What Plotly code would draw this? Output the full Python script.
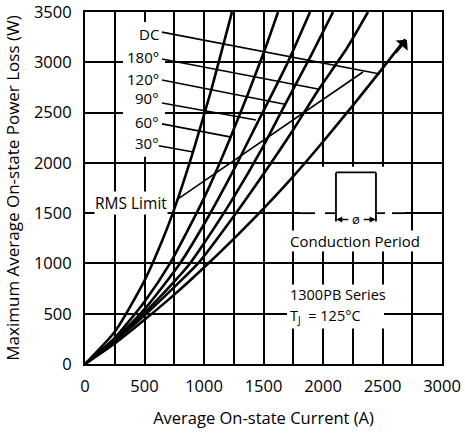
import plotly.graph_objects as go

# ---- data ----
i_30 = [0, 250, 500, 650, 750, 900, 1050, 1235]
p_30 = [0, 320, 830, 1230, 1540, 2080, 2680, 3500]

i_60 = [0, 250, 500, 714, 1000, 1218, 1500, 1622]
p_60 = [0, 260, 620, 1000, 1650, 2240, 3090, 3500]

i_90 = [0, 250, 500, 798, 1000, 1250, 1437, 1700, 1891]
p_90 = [0, 245, 545, 1000, 1390, 1930, 2370, 2990, 3500]

i_120 = [0, 250, 500, 750, 882, 1000, 1250, 1500, 1672, 1900, 2084]
p_120 = [0, 238, 510, 820, 1000, 1200, 1660, 2170, 2560, 3070, 3500]

i_180 = [0, 250, 500, 750, 950, 1250, 1500, 1750, 1958, 2200, 2378]
p_180 = [0, 228, 485, 765, 1000, 1470, 1890, 2330, 2720, 3140, 3500]

i_dc = [0, 250, 500, 750, 1000, 1250, 1500, 1750, 2000, 2250, 2500, 2690]
p_dc = [0, 205, 440, 690, 960, 1245, 1545, 1865, 2210, 2570, 2940, 3230]

curves = [(i_30, p_30), (i_60, p_60), (i_90, p_90),
          (i_120, p_120), (i_180, p_180), (i_dc, p_dc)]

curve_labels = ["DC", "180°", "120°", "90°", "60°", "30°"]
label_y = [3286, 3053, 2839, 2641, 2408, 2194]
leader_start = [(647, 3300), (647, 3033), (647, 2825), (647, 2596), (647, 2388), (620, 2170)]
leader_end = [(2479, 2884), (1958, 2735), (1680, 2584), (1437, 2427), (1218, 2259), (899, 2110)]

x_ticks = [0, 500, 1000, 1500, 2000, 2500, 3000]
y_ticks = [0, 500, 1000, 1500, 2000, 2500, 3000, 3500]

FONT = "Open Sans"

fig = go.Figure()
for xs, ys in curves:
    fig.add_trace(go.Scatter(x=xs, y=ys, mode="lines",
                             line=dict(color="black", width=2.6, shape="spline", smoothing=0.6),
                             showlegend=False, hoverinfo="skip"))

shapes = []
# white patches hiding the grid behind texts / inset
def wrect(x0, x1, y0, y1):
    shapes.append(dict(type="rect", xref="x", yref="y", x0=x0, x1=x1, y0=y0, y1=y1,
                       fillcolor="white", line=dict(width=0), layer="between"))

wrect(319, 672, 2060, 3400)      # label column
wrect(1807, 2689, 1316, 1961)    # inset
wrect(1697, 2513, 354, 791)      # series text

# leaders
for (x0, y0), (x1, y1) in zip(leader_start, leader_end):
    shapes.append(dict(type="line", xref="x", yref="y", x0=x0, y0=y0, x1=x1, y1=y1,
                       line=dict(color="black", width=1.6)))
# RMS limit leader
shapes.append(dict(type="line", xref="x", yref="y", x0=773, y0=1634, x1=2336, y1=2904,
                   line=dict(color="black", width=1.6)))

# inset: pulse and baseline
for a, b in [(1807, 1933), (2017, 2109), (2445, 2521), (2580, 2689)]:
    shapes.append(dict(type="line", xref="x", yref="y", x0=a, x1=b, y0=1500, y1=1500,
                       line=dict(color="black", width=1.8)))
shapes.append(dict(type="line", xref="x", yref="y", x0=2109, x1=2109, y0=1416, y1=1905,
                   line=dict(color="black", width=1.8)))
shapes.append(dict(type="line", xref="x", yref="y", x0=2445, x1=2445, y0=1416, y1=1905,
                   line=dict(color="black", width=1.8)))
shapes.append(dict(type="line", xref="x", yref="y", x0=2109, x1=2445, y0=1905, y1=1905,
                   line=dict(color="black", width=1.8)))

annotations = []
for t, y in zip(curve_labels, label_y):
    annotations.append(dict(x=640, y=y, xref="x", yref="y", text=t, showarrow=False,
                            xanchor="right", yanchor="middle",
                            font=dict(family=FONT, size=15, color="black")))
annotations.append(dict(x=697, y=1604, xref="x", yref="y", text="RMS Limit", showarrow=False,
                        xanchor="right", yanchor="middle",
                        font=dict(family=FONT, size=15.5, color="black"),
                        bgcolor="white", borderpad=0))
annotations.append(dict(x=2269, y=1224, xref="x", yref="y", text="Conduction Period",
                        showarrow=False, xanchor="center", yanchor="middle",
                        font=dict(family=FONT, size=15, color="black"),
                        bgcolor="white", borderpad=0))
annotations.append(dict(x=1706, y=692, xref="x", yref="y", text="1300PB Series",
                        showarrow=False, xanchor="left", yanchor="middle",
                        font=dict(family=FONT, size=14.5, color="black")))
annotations.append(dict(x=1706, y=468, xref="x", yref="y",
                        text="T<sub>J</sub>\u00a0 = 125°C",
                        showarrow=False, xanchor="left", yanchor="middle",
                        font=dict(family=FONT, size=14.5, color="black")))
# theta marker with arrows
annotations.append(dict(x=2277, y=1438, xref="x", yref="y", text="ø", showarrow=False,
                        font=dict(family=FONT, size=13, color="black")))
annotations.append(dict(x=2112, y=1438, ax=2225, ay=1438, xref="x", yref="y",
                        axref="x", ayref="y", text="", showarrow=True,
                        arrowhead=2, arrowsize=0.8, arrowwidth=1.5, arrowcolor="black"))
annotations.append(dict(x=2442, y=1438, ax=2330, ay=1438, xref="x", yref="y",
                        axref="x", ayref="y", text="", showarrow=True,
                        arrowhead=2, arrowsize=0.8, arrowwidth=1.5, arrowcolor="black"))
# arrow at end of DC curve
annotations.append(dict(x=2705, y=3225, ax=2600, ay=3080, xref="x", yref="y",
                        axref="x", ayref="y", text="", showarrow=True,
                        arrowhead=1, arrowsize=1.2, arrowwidth=2.2, arrowcolor="black"))

axis_common = dict(showline=True, mirror=True, linecolor="black", linewidth=2,
                   showgrid=True, gridcolor="black", gridwidth=1.6, zeroline=False,
                   automargin=False, ticklabeloverflow="allow",
                   ticks="", tickfont=dict(family=FONT, size=16.5, color="black"))

fig.update_layout(
    width=465, height=437,
    margin=dict(l=85, r=23, t=12, b=73),
    paper_bgcolor="white", plot_bgcolor="white",
    xaxis=dict(range=[0, 3000], tickvals=x_ticks, ticktext=[str(v) for v in x_ticks],
               minor=dict(tickvals=[250, 750, 1250, 1750, 2250, 2750], showgrid=True,
                          gridcolor="black", gridwidth=1.6),
               ticklabelstandoff=6,
               title=dict(text="Average On-state Current (A)",
                          font=dict(family=FONT, size=16.5, color="black"), standoff=17),
               **axis_common),
    yaxis=dict(range=[0, 3500.5], tickvals=y_ticks, ticktext=[str(v) for v in y_ticks],
               ticklabelstandoff=8,
               title=dict(text="Maximum Average On-state Power Loss (W)",
                          font=dict(family=FONT, size=17, color="black"), standoff=10),
               **axis_common),
    shapes=shapes, annotations=annotations,
)

fig.write_html("out.html")
